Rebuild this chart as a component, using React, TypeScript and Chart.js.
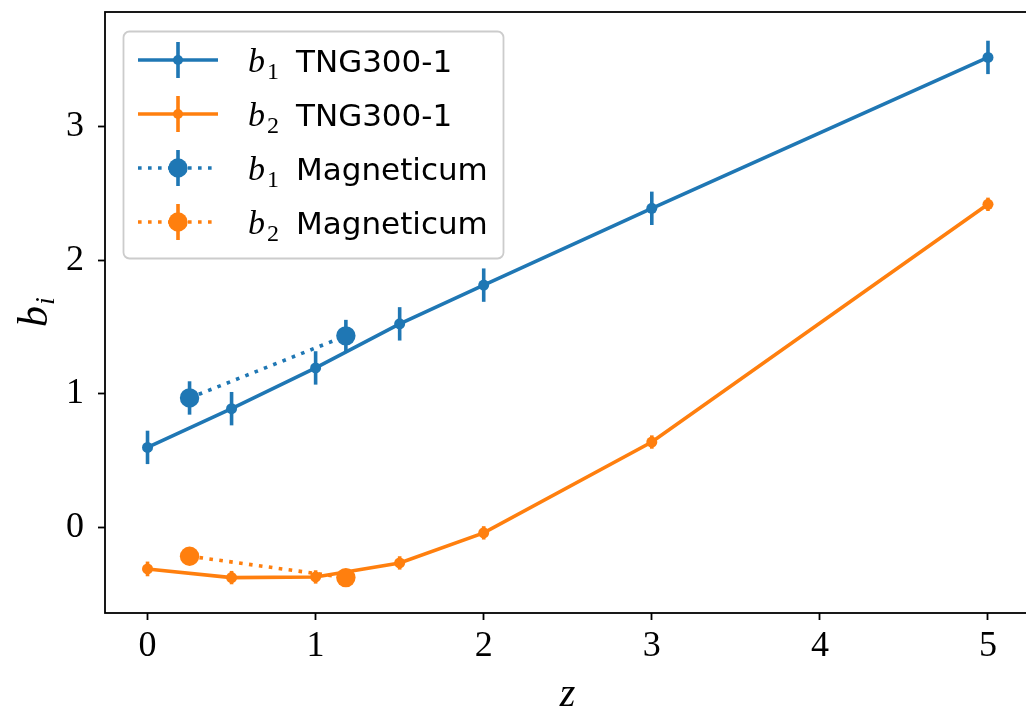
import React, { useEffect, useRef } from "react";
import { Chart, registerables } from "chart.js";

Chart.register(...registerables);

// Redshifts and bias coefficients
const tngZ = [0, 0.5, 1, 1.5, 2, 3, 5];
const tngB1 = [0.6, 0.89, 1.195, 1.525, 1.815, 2.39, 3.52];
const tngB1Err = [0.125, 0.125, 0.125, 0.125, 0.125, 0.125, 0.125];
const tngB2 = [-0.31, -0.375, -0.37, -0.265, -0.04, 0.64, 2.42];
const tngB2Err = [0.055, 0.05, 0.05, 0.05, 0.05, 0.05, 0.05];

const magZ = [0.25, 1.18];
const magB1 = [0.97, 1.435];
const magB1Err = [0.125, 0.12];
const magB2 = [-0.215, -0.375];
const magB2Err = [0.03, 0.06];

const xTicks = [0, 1, 2, 3, 4, 5];
const yTicks = [0, 1, 2, 3];

const BLUE = "#1f77b4";
const ORANGE = "#ff7f0e";
const LW = 3.6;
const DOTS = [3.6, 6.4];

const legendItems = [
  { sub: "1", name: "TNG300-1", color: BLUE, dotted: false, radius: 5 },
  { sub: "2", name: "TNG300-1", color: ORANGE, dotted: false, radius: 5 },
  { sub: "1", name: "Magneticum", color: BLUE, dotted: true, radius: 9.7 },
  { sub: "2", name: "Magneticum", color: ORANGE, dotted: true, radius: 9.7 },
];

const CANVAS_W = 1040;
const CANVAS_H = 711;

const toPoints = (xs: number[], ys: number[]) => xs.map((x, i) => ({ x, y: ys[i] }));

// Vertical error bars, drawn just before each dataset's line and markers
const errorBarPlugin = {
  id: "errorBars",
  beforeDatasetDraw(chart: any, args: any) {
    const ds = chart.data.datasets[args.index];
    const errs: number[] | undefined = ds.errors;
    if (!errs) return;
    const { x, y } = chart.scales;
    const ctx = chart.ctx;
    ctx.save();
    ctx.strokeStyle = ds.borderColor;
    ctx.lineWidth = LW;
    ctx.setLineDash([]);
    ds.data.forEach((p: any, i: number) => {
      const px = x.getPixelForValue(p.x);
      ctx.beginPath();
      ctx.moveTo(px, y.getPixelForValue(p.y - errs[i]));
      ctx.lineTo(px, y.getPixelForValue(p.y + errs[i]));
      ctx.stroke();
    });
    ctx.restore();
  },
};

// Frame, axis labels and legend
const decorPlugin = {
  id: "decor",
  afterDraw(chart: any) {
    const ctx = chart.ctx;
    const a = chart.chartArea;
    ctx.save();

    // spines
    ctx.strokeStyle = "#000";
    ctx.lineWidth = 1.8;
    ctx.strokeRect(a.left, a.top, a.right - a.left, a.bottom - a.top);

    // x label
    ctx.fillStyle = "#000";
    ctx.font = "italic 40px 'Liberation Serif'";
    ctx.textAlign = "center";
    ctx.textBaseline = "alphabetic";
    ctx.fillText("z", (a.left + a.right) / 2, 706);

    // y label (rotated)
    ctx.save();
    ctx.translate(47, (a.top + a.bottom) / 2);
    ctx.rotate(-Math.PI / 2);
    ctx.textAlign = "left";
    ctx.font = "italic 42px 'Liberation Serif'";
    const bw = ctx.measureText("b").width;
    ctx.font = "italic 28px 'Liberation Serif'";
    const iw = ctx.measureText("i").width;
    const start = -(bw + iw) / 2;
    ctx.font = "italic 42px 'Liberation Serif'";
    ctx.fillText("b", start, 0);
    ctx.font = "italic 28px 'Liberation Serif'";
    ctx.fillText("i", start + bw + 1, 7);
    ctx.restore();

    // legend box
    ctx.beginPath();
    ctx.roundRect(123.5, 31.5, 380, 227, 6);
    ctx.fillStyle = "rgba(255,255,255,0.85)";
    ctx.fill();
    ctx.strokeStyle = "#cccccc";
    ctx.lineWidth = 1.8;
    ctx.stroke();

    legendItems.forEach((item, r) => {
      const cy = 60 + 54 * r;
      ctx.strokeStyle = item.color;
      ctx.fillStyle = item.color;
      ctx.lineWidth = LW;
      ctx.lineCap = "butt";
      ctx.setLineDash(item.dotted ? DOTS : []);
      ctx.beginPath();
      ctx.moveTo(138, cy);
      ctx.lineTo(218, cy);
      ctx.stroke();
      ctx.setLineDash([]);
      ctx.beginPath();
      ctx.moveTo(178, cy - 18);
      ctx.lineTo(178, cy + 18);
      ctx.stroke();
      ctx.beginPath();
      ctx.arc(178, cy, item.radius, 0, Math.PI * 2);
      ctx.fill();

      const base = cy + 12;
      ctx.fillStyle = "#000";
      ctx.textAlign = "left";
      ctx.font = "italic 34px 'Liberation Serif'";
      ctx.fillText("b", 248, base);
      ctx.font = "24px 'Liberation Serif'";
      ctx.fillText(item.sub, 267, base + 7);
      ctx.font = "31px 'DejaVu Sans'";
      ctx.fillText(item.name, 296, base);
    });

    ctx.restore();
  },
};

export default function App() {
  const canvasRef = useRef<HTMLCanvasElement | null>(null);

  useEffect(() => {
    const canvas = canvasRef.current;
    if (!canvas) return;

    const tickFont = { family: "'Liberation Serif'", size: 36 };

    const lineDataset = (label: string, data: any[], errors: number[], color: string, dotted: boolean, order: number) => ({
      label,
      data,
      errors,
      borderColor: color,
      backgroundColor: color,
      borderWidth: LW,
      borderDash: dotted ? DOTS : [],
      pointRadius: dotted ? 9.7 : 5.5,
      pointBorderWidth: 0,
      order,
    });

    const chart = new Chart(canvas, {
      type: "line",
      data: {
        datasets: [
          lineDataset("b1 TNG300-1", toPoints(tngZ, tngB1), tngB1Err, BLUE, false, 4),
          lineDataset("b2 TNG300-1", toPoints(tngZ, tngB2), tngB2Err, ORANGE, false, 3),
          lineDataset("b1 Magneticum", toPoints(magZ, magB1), magB1Err, BLUE, true, 2),
          lineDataset("b2 Magneticum", toPoints(magZ, magB2), magB2Err, ORANGE, true, 1),
        ] as any,
      },
      options: {
        animation: false,
        responsive: false,
        events: [],
        layout: { padding: { left: 0, top: 12, right: CANVAS_W - 1030, bottom: 0 } },
        plugins: {
          legend: { display: false },
          tooltip: { enabled: false },
        },
        elements: { line: { tension: 0, borderCapStyle: "butt" } },
        scales: {
          x: {
            type: "linear",
            min: -0.253,
            max: 5.25,
            afterBuildTicks: (s: any) => {
              s.ticks = xTicks.map((v) => ({ value: v }));
            },
            afterFit: (s: any) => {
              s.height = CANVAS_H - 613;
              s.paddingLeft = 0;
              s.paddingRight = 0;
            },
            border: { display: false },
            grid: {
              display: true,
              drawOnChartArea: false,
              drawTicks: true,
              tickLength: 7,
              tickColor: "#000",
              tickWidth: 1.8,
            },
            ticks: {
              color: "#000",
              font: tickFont,
              padding: 5,
              maxRotation: 0,
              callback: (v: any) => String(v),
            },
          },
          y: {
            type: "linear",
            min: -0.64,
            max: 3.86,
            afterBuildTicks: (s: any) => {
              s.ticks = yTicks.map((v) => ({ value: v }));
            },
            afterFit: (s: any) => {
              s.width = 105;
              s.paddingTop = 0;
              s.paddingBottom = 0;
            },
            border: { display: false },
            grid: {
              display: true,
              drawOnChartArea: false,
              drawTicks: true,
              tickLength: 7,
              tickColor: "#000",
              tickWidth: 1.8,
            },
            ticks: {
              color: "#000",
              font: tickFont,
              padding: 14,
              callback: (v: any) => String(v),
            },
          },
        },
      } as any,
      plugins: [errorBarPlugin, decorPlugin],
    });

    return () => chart.destroy();
  }, []);

  return (
    <div
      style={{
        position: "fixed",
        left: 0,
        top: 0,
        width: 1026,
        height: 711,
        overflow: "hidden",
        background: "#fff",
      }}
    >
      <canvas
        ref={canvasRef}
        width={CANVAS_W}
        height={CANVAS_H}
        style={{ display: "block", width: CANVAS_W, height: CANVAS_H }}
      />
    </div>
  );
}
